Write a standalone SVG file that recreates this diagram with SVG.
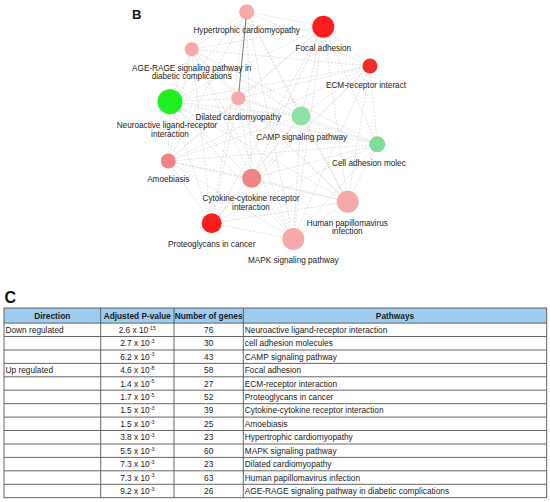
<svg xmlns="http://www.w3.org/2000/svg" width="550" height="502" viewBox="0 0 550 502">
<style>
.lbl{font-family:"Liberation Sans",Arial,sans-serif;font-size:8.2px;fill:#1a1a1a;text-anchor:middle}
.e{stroke:#cfcfcf;stroke-width:0.65;stroke-dasharray:2 1.5;fill:none}
.th{font-family:"Liberation Sans",Arial,sans-serif;font-size:8.3px;font-weight:bold;fill:#1a1a1a;text-anchor:middle}
.td{font-family:"Liberation Sans",Arial,sans-serif;font-size:8.3px;fill:#1a1a1a}
.c{text-anchor:middle}
.sup{font-size:5.3px}
.grid{stroke:#555;stroke-width:0.9;fill:none}
.pk{fill:#f5a9a9}
.sa{fill:#f08383}
.rd{fill:#ff1c1c}
.lg{fill:#8fdfa6}
</style>
<rect width="550" height="502" fill="#ffffff"/>
<text x="132" y="19" font-family="Liberation Sans,Arial,sans-serif" font-size="13" font-weight="bold" fill="#111">B</text>
<g id="connectors">
<line class="e" x1="246.7" y1="11.7" x2="323.3" y2="26.7"/>
<line class="e" x1="246.7" y1="11.7" x2="191.7" y2="49.3"/>
<line class="e" x1="246.7" y1="11.7" x2="370" y2="66"/>
<line class="e" x1="246.7" y1="11.7" x2="170" y2="101.7"/>
<line class="e" x1="246.7" y1="11.7" x2="301" y2="116"/>
<line class="e" x1="246.7" y1="11.7" x2="168.3" y2="161"/>
<line class="e" x1="246.7" y1="11.7" x2="251.7" y2="178.3"/>
<line class="e" x1="246.7" y1="11.7" x2="347.7" y2="201.7"/>
<line class="e" x1="246.7" y1="11.7" x2="211.7" y2="223.3"/>
<line class="e" x1="246.7" y1="11.7" x2="293.3" y2="239"/>
<line class="e" x1="323.3" y1="26.7" x2="191.7" y2="49.3"/>
<line class="e" x1="323.3" y1="26.7" x2="370" y2="66"/>
<line class="e" x1="323.3" y1="26.7" x2="238.3" y2="98.3"/>
<line class="e" x1="323.3" y1="26.7" x2="170" y2="101.7"/>
<line class="e" x1="323.3" y1="26.7" x2="301" y2="116"/>
<line class="e" x1="323.3" y1="26.7" x2="377.3" y2="144.3"/>
<line class="e" x1="323.3" y1="26.7" x2="168.3" y2="161"/>
<line class="e" x1="323.3" y1="26.7" x2="251.7" y2="178.3"/>
<line class="e" x1="323.3" y1="26.7" x2="347.7" y2="201.7"/>
<line class="e" x1="323.3" y1="26.7" x2="211.7" y2="223.3"/>
<line class="e" x1="323.3" y1="26.7" x2="293.3" y2="239"/>
<line class="e" x1="191.7" y1="49.3" x2="370" y2="66"/>
<line class="e" x1="191.7" y1="49.3" x2="238.3" y2="98.3"/>
<line class="e" x1="191.7" y1="49.3" x2="170" y2="101.7"/>
<line class="e" x1="191.7" y1="49.3" x2="301" y2="116"/>
<line class="e" x1="191.7" y1="49.3" x2="377.3" y2="144.3"/>
<line class="e" x1="191.7" y1="49.3" x2="168.3" y2="161"/>
<line class="e" x1="191.7" y1="49.3" x2="251.7" y2="178.3"/>
<line class="e" x1="191.7" y1="49.3" x2="347.7" y2="201.7"/>
<line class="e" x1="191.7" y1="49.3" x2="211.7" y2="223.3"/>
<line class="e" x1="191.7" y1="49.3" x2="293.3" y2="239"/>
<line class="e" x1="370" y1="66" x2="238.3" y2="98.3"/>
<line class="e" x1="370" y1="66" x2="170" y2="101.7"/>
<line class="e" x1="370" y1="66" x2="301" y2="116"/>
<line class="e" x1="370" y1="66" x2="377.3" y2="144.3"/>
<line class="e" x1="370" y1="66" x2="168.3" y2="161"/>
<line class="e" x1="370" y1="66" x2="251.7" y2="178.3"/>
<line class="e" x1="370" y1="66" x2="347.7" y2="201.7"/>
<line class="e" x1="370" y1="66" x2="211.7" y2="223.3"/>
<line class="e" x1="370" y1="66" x2="293.3" y2="239"/>
<line class="e" x1="238.3" y1="98.3" x2="170" y2="101.7"/>
<line class="e" x1="238.3" y1="98.3" x2="301" y2="116"/>
<line class="e" x1="238.3" y1="98.3" x2="377.3" y2="144.3"/>
<line class="e" x1="238.3" y1="98.3" x2="168.3" y2="161"/>
<line class="e" x1="238.3" y1="98.3" x2="251.7" y2="178.3"/>
<line class="e" x1="238.3" y1="98.3" x2="347.7" y2="201.7"/>
<line class="e" x1="238.3" y1="98.3" x2="211.7" y2="223.3"/>
<line class="e" x1="238.3" y1="98.3" x2="293.3" y2="239"/>
<line class="e" x1="170" y1="101.7" x2="301" y2="116"/>
<line class="e" x1="170" y1="101.7" x2="377.3" y2="144.3"/>
<line class="e" x1="170" y1="101.7" x2="168.3" y2="161"/>
<line class="e" x1="170" y1="101.7" x2="251.7" y2="178.3"/>
<line class="e" x1="170" y1="101.7" x2="347.7" y2="201.7"/>
<line class="e" x1="170" y1="101.7" x2="211.7" y2="223.3"/>
<line class="e" x1="170" y1="101.7" x2="293.3" y2="239"/>
<line class="e" x1="301" y1="116" x2="377.3" y2="144.3"/>
<line class="e" x1="301" y1="116" x2="168.3" y2="161"/>
<line class="e" x1="301" y1="116" x2="251.7" y2="178.3"/>
<line class="e" x1="301" y1="116" x2="347.7" y2="201.7"/>
<line class="e" x1="301" y1="116" x2="211.7" y2="223.3"/>
<line class="e" x1="301" y1="116" x2="293.3" y2="239"/>
<line class="e" x1="377.3" y1="144.3" x2="168.3" y2="161"/>
<line class="e" x1="377.3" y1="144.3" x2="251.7" y2="178.3"/>
<line class="e" x1="377.3" y1="144.3" x2="347.7" y2="201.7"/>
<line class="e" x1="377.3" y1="144.3" x2="211.7" y2="223.3"/>
<line class="e" x1="377.3" y1="144.3" x2="293.3" y2="239"/>
<line class="e" x1="168.3" y1="161" x2="251.7" y2="178.3"/>
<line class="e" x1="168.3" y1="161" x2="347.7" y2="201.7"/>
<line class="e" x1="168.3" y1="161" x2="211.7" y2="223.3"/>
<line class="e" x1="168.3" y1="161" x2="293.3" y2="239"/>
<line class="e" x1="251.7" y1="178.3" x2="347.7" y2="201.7"/>
<line class="e" x1="251.7" y1="178.3" x2="211.7" y2="223.3"/>
<line class="e" x1="251.7" y1="178.3" x2="293.3" y2="239"/>
<line class="e" x1="347.7" y1="201.7" x2="211.7" y2="223.3"/>
<line class="e" x1="347.7" y1="201.7" x2="293.3" y2="239"/>
<line class="e" x1="211.7" y1="223.3" x2="293.3" y2="239"/>
<line x1="246.7" y1="11.7" x2="238.3" y2="98.3" stroke="#555" stroke-width="0.8"/>
</g>
<g id="n-hypertrophic"><circle class="pk" cx="246.7" cy="11.7" r="7.5"/><text class="lbl" x="246.7" y="33">Hypertrophic cardiomyopathy</text></g>
<g id="n-focal"><circle class="rd" cx="323.3" cy="26.7" r="11"/><text class="lbl" x="323.3" y="50.5">Focal adhesion</text></g>
<g id="n-agerage"><circle class="pk" cx="191.7" cy="49.3" r="7"/><text class="lbl" x="191.7" y="70.5">AGE-RAGE signaling pathway in</text><text class="lbl" x="191.7" y="79.3">diabetic complications</text></g>
<g id="n-ecm"><circle fill="#f52a2a" cx="370" cy="66" r="7.5"/><text class="lbl" x="366" y="88">ECM-receptor interact</text></g>
<g id="n-neuro"><circle fill="#1fef1f" cx="170" cy="101.7" r="12.5"/><text class="lbl" x="167" y="128">Neuroactive ligand-receptor</text><text class="lbl" x="170" y="136.8">interaction</text></g>
<g id="n-dilated"><circle class="pk" cx="238.3" cy="98.3" r="7"/><text class="lbl" x="238.3" y="119.5">Dilated cardiomyopathy</text></g>
<g id="n-camp"><circle class="lg" cx="301" cy="116" r="9.5"/><text class="lbl" x="301.7" y="139.5">CAMP signaling pathway</text></g>
<g id="n-celladh"><circle fill="#7fdc98" cx="377.3" cy="144.3" r="8"/><text class="lbl" x="332" y="166" style="text-anchor:start">Cell adhesion molec</text></g>
<g id="n-amoeb"><circle class="sa" cx="168.3" cy="161" r="7.5"/><text class="lbl" x="168.3" y="182">Amoebiasis</text></g>
<g id="n-cytokine"><circle class="sa" cx="251.7" cy="178.3" r="9.5"/><text class="lbl" x="251" y="200.5">Cytokine-cytokine receptor</text><text class="lbl" x="251" y="209.5">interaction</text></g>
<g id="n-hpv"><circle class="pk" cx="347.7" cy="201.7" r="11"/><text class="lbl" x="347.3" y="225.5">Human papillomavirus</text><text class="lbl" x="347.3" y="234.3">infection</text></g>
<g id="n-proteo"><circle class="rd" cx="211.7" cy="223.3" r="10"/><text class="lbl" x="211.7" y="247">Proteoglycans in cancer</text></g>
<g id="n-mapk"><circle class="pk" cx="293.3" cy="239" r="11"/><text class="lbl" x="293.3" y="263">MAPK signaling pathway</text></g>

<text x="4.5" y="303" font-family="Liberation Sans,Arial,sans-serif" font-size="16" font-weight="bold" fill="#111">C</text>
<g id="table">
<rect x="4" y="308" width="542.7" height="15.1" fill="#9fcbee"/>
<rect class="grid" x="4" y="308" width="542.7" height="189.7"/>
<g class="grid">
<line x1="4" y1="323.1" x2="546.7" y2="323.1"/>
<line x1="4" y1="336.5" x2="546.7" y2="336.5"/>
<line x1="4" y1="350" x2="546.7" y2="350"/>
<line x1="4" y1="363.4" x2="546.7" y2="363.4"/>
<line x1="4" y1="376.8" x2="546.7" y2="376.8"/>
<line x1="4" y1="390.2" x2="546.7" y2="390.2"/>
<line x1="4" y1="403.7" x2="546.7" y2="403.7"/>
<line x1="4" y1="417.1" x2="546.7" y2="417.1"/>
<line x1="4" y1="430.5" x2="546.7" y2="430.5"/>
<line x1="4" y1="444" x2="546.7" y2="444"/>
<line x1="4" y1="457.4" x2="546.7" y2="457.4"/>
<line x1="4" y1="470.8" x2="546.7" y2="470.8"/>
<line x1="4" y1="484.3" x2="546.7" y2="484.3"/>
<line x1="100.7" y1="308" x2="100.7" y2="497.7"/>
<line x1="174" y1="308" x2="174" y2="497.7"/>
<line x1="243.3" y1="308" x2="243.3" y2="497.7"/>
</g>
<text class="th" x="52.3" y="318.7">Direction</text>
<text class="th" x="137.3" y="318.7">Adjusted P-value</text>
<text class="th" x="208.7" y="318.7">Number of genes</text>
<text class="th" x="395" y="318.7">Pathways</text>

<text class="td" x="5.5" y="332.7">Down regulated</text>
<text class="td" x="5.5" y="373.1">Up regulated</text>

<text class="td c" x="137.3" y="332.7">2.6 x 10<tspan class="sup" dy="-3.2">-15</tspan></text>
<text class="td c" x="137.3" y="346.2">2.7 x 10<tspan class="sup" dy="-3.2">-3</tspan></text>
<text class="td c" x="137.3" y="359.6">6.2 x 10<tspan class="sup" dy="-3.2">-3</tspan></text>
<text class="td c" x="137.3" y="373.1">4.6 x 10<tspan class="sup" dy="-3.2">-8</tspan></text>
<text class="td c" x="137.3" y="386.5">1.4 x 10<tspan class="sup" dy="-3.2">-5</tspan></text>
<text class="td c" x="137.3" y="399.9">1.7 x 10<tspan class="sup" dy="-3.2">-5</tspan></text>
<text class="td c" x="137.3" y="413.4">1.5 x 10<tspan class="sup" dy="-3.2">-3</tspan></text>
<text class="td c" x="137.3" y="426.8">1.5 x 10<tspan class="sup" dy="-3.2">-3</tspan></text>
<text class="td c" x="137.3" y="440.2">3.8 x 10<tspan class="sup" dy="-3.2">-3</tspan></text>
<text class="td c" x="137.3" y="453.7">5.5 x 10<tspan class="sup" dy="-3.2">-3</tspan></text>
<text class="td c" x="137.3" y="467.1">7.3 x 10<tspan class="sup" dy="-3.2">-3</tspan></text>
<text class="td c" x="137.3" y="480.5">7.3 x 10<tspan class="sup" dy="-3.2">-3</tspan></text>
<text class="td c" x="137.3" y="494">9.2 x 10<tspan class="sup" dy="-3.2">-3</tspan></text>

<text class="td c" x="208.7" y="332.7">76</text>
<text class="td c" x="208.7" y="346.2">30</text>
<text class="td c" x="208.7" y="359.6">43</text>
<text class="td c" x="208.7" y="373.1">58</text>
<text class="td c" x="208.7" y="386.5">27</text>
<text class="td c" x="208.7" y="399.9">52</text>
<text class="td c" x="208.7" y="413.4">39</text>
<text class="td c" x="208.7" y="426.8">25</text>
<text class="td c" x="208.7" y="440.2">23</text>
<text class="td c" x="208.7" y="453.7">60</text>
<text class="td c" x="208.7" y="467.1">23</text>
<text class="td c" x="208.7" y="480.5">63</text>
<text class="td c" x="208.7" y="494">26</text>

<text class="td" x="244.8" y="332.7">Neuroactive ligand-receptor interaction</text>
<text class="td" x="244.8" y="346.2">cell adhesion molecules</text>
<text class="td" x="244.8" y="359.6">CAMP signaling pathway</text>
<text class="td" x="244.8" y="373.1">Focal adhesion</text>
<text class="td" x="244.8" y="386.5">ECM-receptor interaction</text>
<text class="td" x="244.8" y="399.9">Proteoglycans in cancer</text>
<text class="td" x="244.8" y="413.4">Cytokine-cytokine receptor interaction</text>
<text class="td" x="244.8" y="426.8">Amoebiasis</text>
<text class="td" x="244.8" y="440.2">Hypertrophic cardiomyopathy</text>
<text class="td" x="244.8" y="453.7">MAPK signaling pathway</text>
<text class="td" x="244.8" y="467.1">Dilated cardiomyopathy</text>
<text class="td" x="244.8" y="480.5">Human papillomavirus infection</text>
<text class="td" x="244.8" y="494">AGE-RAGE signaling pathway in diabetic complications</text>
</g>
</svg>
